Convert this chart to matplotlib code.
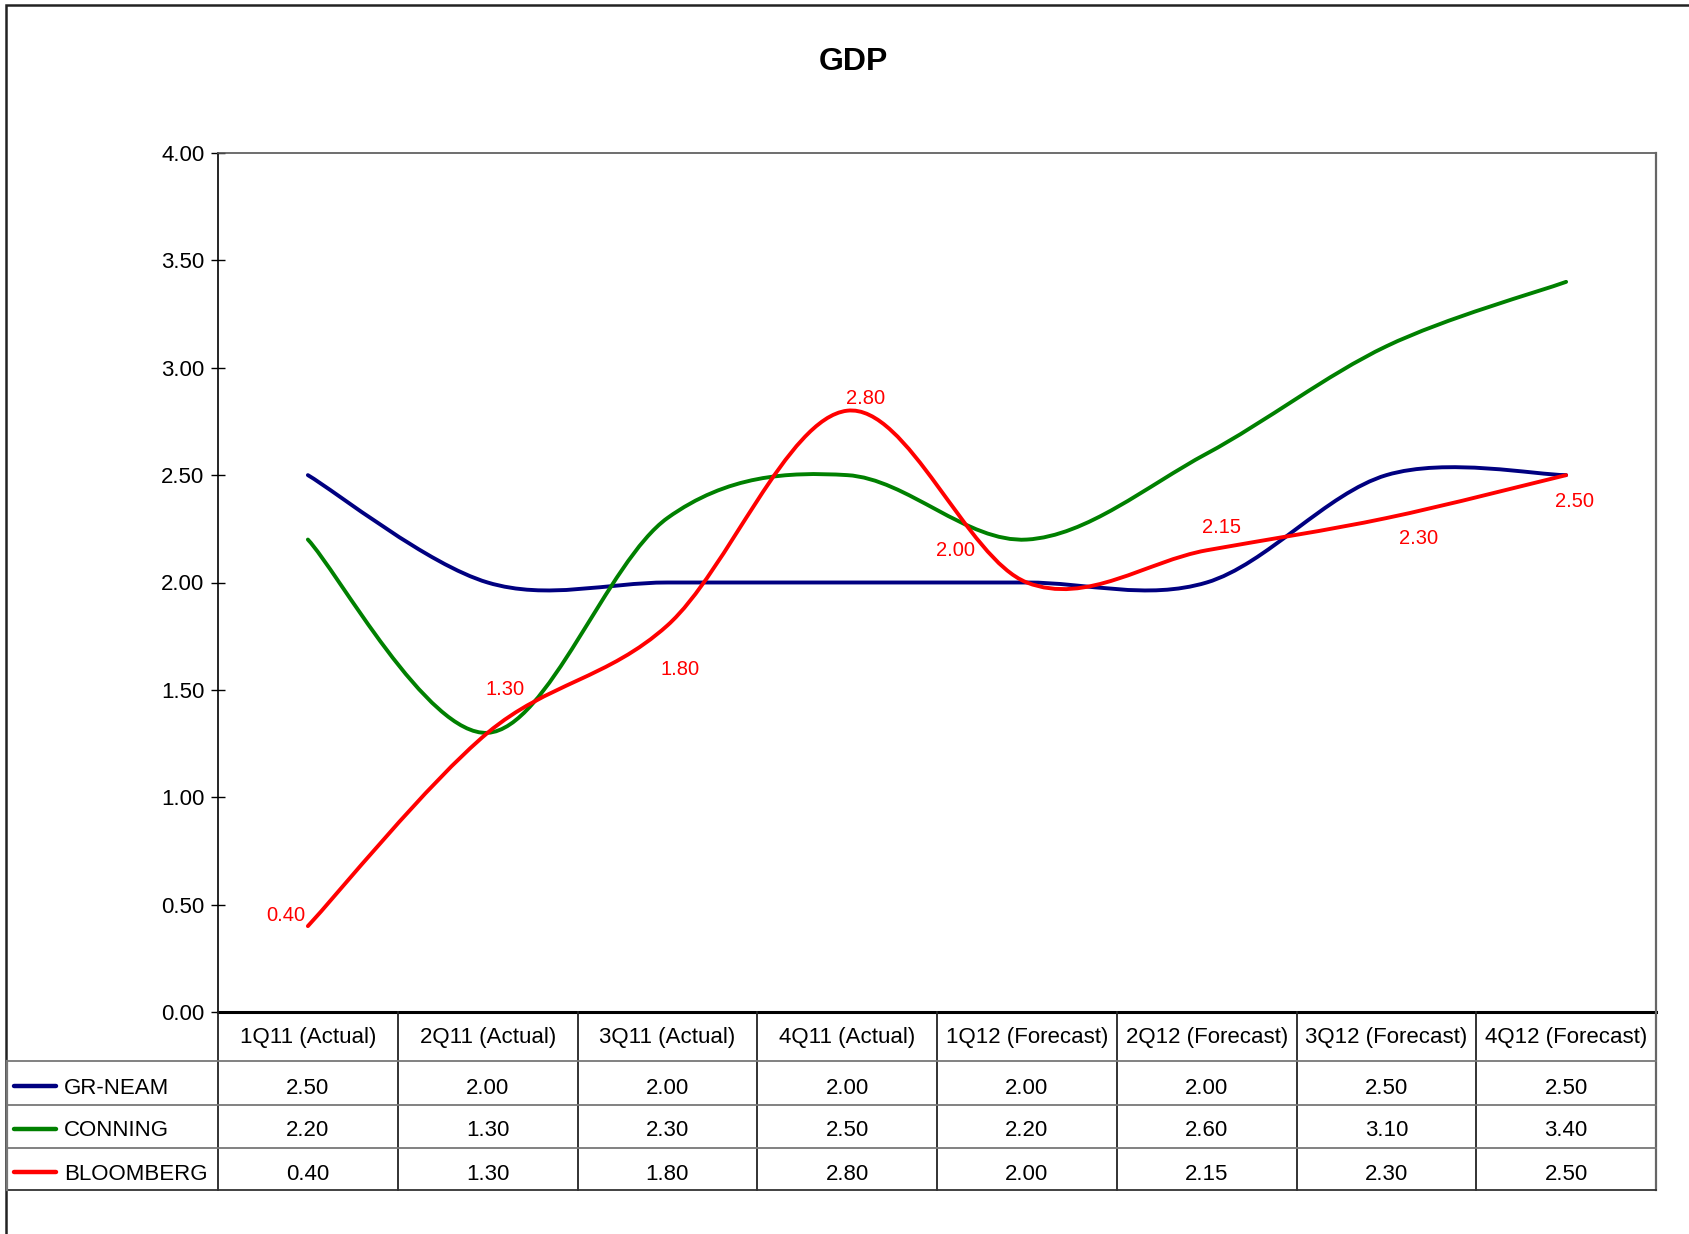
import matplotlib
matplotlib.use("Agg")
import matplotlib.pyplot as plt
from matplotlib.path import Path
from matplotlib.patches import PathPatch, Rectangle
from matplotlib.lines import Line2D
from matplotlib import transforms

plt.rcParams['font.family'] = ['Liberation Sans', 'DejaVu Sans']

# data
quarters = ['1Q11 (Actual)', '2Q11 (Actual)', '3Q11 (Actual)', '4Q11 (Actual)',
            '1Q12 (Forecast)', '2Q12 (Forecast)', '3Q12 (Forecast)', '4Q12 (Forecast)']
gr_neam = [2.50, 2.00, 2.00, 2.00, 2.00, 2.00, 2.50, 2.50]
conning = [2.20, 1.30, 2.30, 2.50, 2.20, 2.60, 3.10, 3.40]
bloomberg = [0.40, 1.30, 1.80, 2.80, 2.00, 2.15, 2.30, 2.50]
series_names = ['GR-NEAM', 'CONNING', 'BLOOMBERG']
yticks = [0.0, 0.5, 1.0, 1.5, 2.0, 2.5, 3.0, 3.5, 4.0]

colors = ['#000080', '#008000', '#FF0000']
# offsets (pixels) of the bloomberg data labels
label_offsets = [(-22, 11), (17, 43), (13, -44), (18, 12), (-71, 32), (15, 23), (32, -20), (8, -26)]

W, H = 1690, 1234
fig = plt.figure(figsize=(W / 100, H / 100), dpi=100)


def fx(px):
    return px / W


def fy(py):
    return 1 - py / H


left, right, top, bottom = 218, 1656, 153, 1012
ax = fig.add_axes([fx(left), fy(bottom), fx(right) - fx(left), (bottom - top) / H])
ax.set_xlim(-0.5, 7.5)
ax.set_ylim(0, 4)


def smooth_path(ys):
    # excel-like smoothed line: catmull-rom as cubic bezier
    n = len(ys)
    pts = [(i, y) for i, y in enumerate(ys)]
    verts = [pts[0]]
    codes = [Path.MOVETO]
    for i in range(n - 1):
        p0 = pts[max(i - 1, 0)]
        p1 = pts[i]
        p2 = pts[i + 1]
        p3 = pts[min(i + 2, n - 1)]
        c1 = (p1[0] + (p2[0] - p0[0]) / 6, p1[1] + (p2[1] - p0[1]) / 6)
        c2 = (p2[0] - (p3[0] - p1[0]) / 6, p2[1] - (p3[1] - p1[1]) / 6)
        verts += [c1, c2, p2]
        codes += [Path.CURVE4] * 3
    return Path(verts, codes)


for ys, c in zip([gr_neam, conning, bloomberg], colors):
    ax.add_patch(PathPatch(smooth_path(ys), facecolor='none', edgecolor=c, lw=2.8,
                           capstyle='round', joinstyle='round', zorder=3))

for i, v in enumerate(bloomberg):
    ax.annotate('%.2f' % v, (i, v), xytext=label_offsets[i], textcoords='offset pixels',
                ha='center', va='center', color='#FF0000', fontsize=14.5)

ax.set_yticks(yticks)
ax.set_yticklabels(['%.2f' % t for t in yticks], fontsize=16)
ax.tick_params(axis='y', direction='inout', length=9.5, width=1, pad=5, colors='black')
ax.set_xticks([])
for s in ['top', 'right']:
    ax.spines[s].set_color('#555555')
    ax.spines[s].set_linewidth(1.2)
ax.spines['left'].set_linewidth(1.2)
ax.spines['bottom'].set_linewidth(2.2)

fig.text(fx(853), fy(62), 'GDP', ha='center', va='center', fontsize=23, fontweight='bold')

# data table under the axis
bt = transforms.blended_transform_factory(ax.transData, fig.transFigure)
row_lines = [1061, 1105, 1148, 1190]
row_text_y = [1088, 1131, 1174]
for k in range(9):
    x = k - 0.5
    fig.add_artist(Line2D([x, x], [fy(bottom), fy(1190)], transform=bt,
                          color='#222222' if k < 8 else '#666666', lw=1.3))
fig.add_artist(Line2D([fx(right), fx(right)], [fy(top), fy(1190)], transform=fig.transFigure,
                      color='#666666', lw=1.6))
for j, yl in enumerate(row_lines):
    fig.add_artist(Line2D([fx(7), fx(right)], [fy(yl), fy(yl)], transform=fig.transFigure,
                          color='#777777' if j < 3 else '#333333', lw=1.3))
fig.add_artist(Line2D([fx(7), fx(7)], [fy(1061), fy(1190)], transform=fig.transFigure,
                      color='#777777', lw=1.6))

for i, q in enumerate(quarters):
    fig.text(i, fy(1038), q, transform=bt, ha='center', va='center', fontsize=16)
for r, (name, ys, c) in enumerate(zip(series_names, [gr_neam, conning, bloomberg], colors)):
    yy = row_text_y[r]
    fig.add_artist(Line2D([fx(14), fx(56)], [fy(yy - 2), fy(yy - 2)], transform=fig.transFigure,
                          color=c, lw=3.2, solid_capstyle='round'))
    fig.text(fx(64), fy(yy), name, ha='left', va='center', fontsize=16)
    for i, v in enumerate(ys):
        fig.text(i, fy(yy), '%.2f' % v, transform=bt, ha='center', va='center', fontsize=16)

# outer chart border
fig.add_artist(Rectangle((fx(6), fy(H + 20)), 1.2, fy(5) - fy(H + 20), transform=fig.transFigure,
                         facecolor='none', edgecolor='#222222', lw=1.8))

fig.savefig('out.png', dpi=100, facecolor='white')
